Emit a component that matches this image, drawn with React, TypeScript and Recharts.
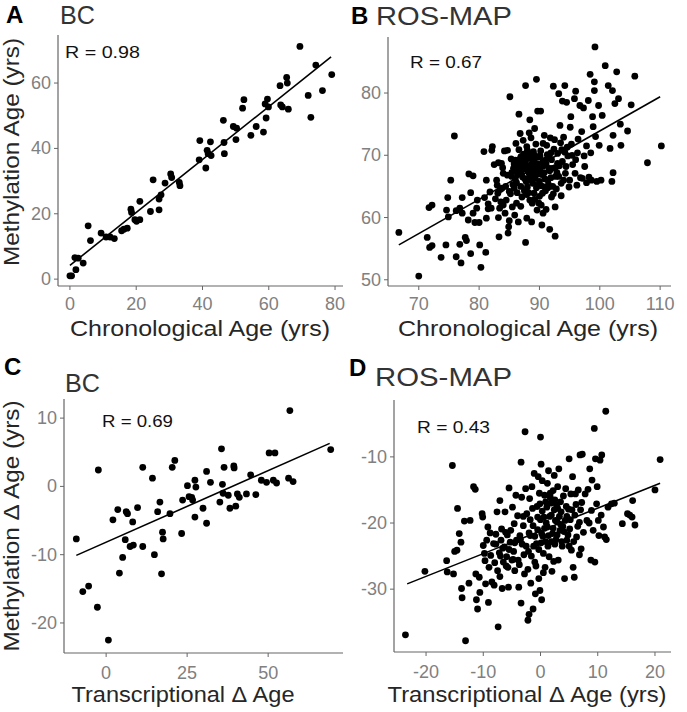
import React from 'react'
import { ScatterChart, Scatter, XAxis, YAxis, ReferenceLine } from 'recharts'

// Panel A: BC, chronological vs methylation age
const bcAgePoints: [number, number][] = [
	[0, 1], [0.5, 1], [1.8, 2.9], [1.5, 6.6], [2.5, 6.4], [4, 4.9], [5.5, 16.3], [6.2, 11.8],
	[9.4, 14.1], [10.9, 12.9], [12.1, 12.9], [13.4, 12.4], [15.6, 14.8], [16.3, 15.3], [17.3, 15.6],
	[18.4, 21.4], [18.6, 20.4], [19.6, 18.2], [20.1, 17.7], [21.1, 23.8], [21.1, 18.2], [24.3, 20.7],
	[25.1, 30.4], [26.9, 21.2], [26.9, 24.5], [27.5, 25.8], [28.7, 29.4], [30.4, 32.2], [30.7, 31.1],
	[33.2, 28.6], [33, 29.6], [39, 36.5], [39.2, 42.4], [41, 34], [41.4, 39.4], [41.7, 38.4],
	[42.4, 42.0], [42.6, 37.8], [46.5, 41.8], [46.3, 48.6], [46.6, 38.4], [49.3, 46.7], [50.1, 42.7],
	[50.3, 46.2], [52.1, 52.3], [52.5, 54.9], [54.6, 44], [56.2, 46.7], [58.4, 45], [59.2, 49.3],
	[58.9, 53.6], [59.6, 55.1], [59.9, 52.7], [63.4, 59.2], [63.6, 53.3], [64.1, 52.7], [65.4, 61.7],
	[65.6, 60], [65.9, 52], [69.4, 71.2], [71.9, 56.2], [72.7, 49.5], [74.2, 65.5], [76.2, 57.7],
	[79, 62.6],
]
const bcAgeFit: [number, number][] = [[0, 4.2], [78.8, 68]]

// Panel B: ROS-MAP, chronological vs methylation age
const rosAgePoints: [number, number][] = [
	[66.7, 57.6], [70.0, 50.6], [71.4, 56.8], [71.7, 61.6], [72.2, 62.0], [71.8, 55.2], [72.2, 55.5],
	[73.7, 53.6], [74.5, 55.6], [74.6, 61.2], [74.8, 63.2], [74.9, 60.1], [75.3, 66.0], [75.9, 73.1],
	[76.2, 53.7], [76.8, 55.7], [77.0, 52.7], [76.8, 61.5], [76.2, 61.1], [77.2, 63.2], [77.2, 60.7],
	[77.7, 56.8], [77.9, 56.3], [78.3, 67.0], [78.6, 64.0], [78.6, 54.2], [78.2, 59.6], [79.0, 60.7],
	[79.0, 66.7], [79.3, 59.2], [79.6, 61.5], [79.7, 62.8], [80.0, 59.2], [80.1, 55.6], [80.3, 52.0],
	[80.8, 70.6], [80.9, 63.2], [81.1, 54.4], [81.2, 66.0], [81.2, 59.9], [81.5, 61.4], [81.5, 62.2],
	[81.8, 64.1], [82.1, 70.8], [82.2, 71.4], [82.9, 66.0], [83.1, 63.9], [83.2, 68.8], [83.2, 60.0],
	[83.3, 56.9], [83.4, 61.5], [83.6, 62.5], [83.7, 68.7], [83.8, 64.7], [84.0, 67.1], [84.2, 70.7],
	[84.3, 60.7], [84.5, 62.8], [84.7, 70.8], [84.8, 57.5], [85.0, 59.5], [85.1, 79.4], [85.2, 63.8],
	[85.4, 66.6], [85.5, 61.7], [85.7, 67.9], [85.8, 64.7], [86.0, 69.2], [86.1, 71.9], [86.2, 65.6],
	[86.2, 62.3], [86.6, 76.6], [86.5, 59.3], [86.8, 73.5], [86.9, 69.7], [87.0, 67.1], [87.1, 63.3],
	[87.3, 69.2], [87.6, 68.2], [87.7, 81.2], [87.7, 56.0], [87.9, 71.4], [87.9, 59.9], [88.0, 64.9],
	[88.1, 69.7], [88.3, 67.1], [88.3, 73.6], [88.4, 75.7], [88.4, 62.8], [88.6, 66.0], [88.7, 59.3],
	[88.8, 68.7], [89.0, 70.6], [89.1, 63.9], [89.2, 74.3], [89.5, 82.2], [89.5, 67.6], [89.7, 77.1],
	[89.8, 65.2], [89.9, 62.3], [90.1, 69.9], [90.2, 77.1], [90.4, 58.8], [90.5, 67.1], [90.6, 60.7],
	[90.8, 73.2], [90.9, 64.9], [91.0, 69.2], [91.2, 71.6], [91.4, 66.0], [91.6, 67.9], [91.7, 58.1],
	[91.9, 70.4], [92.0, 63.3], [92.3, 81.1], [92.5, 72.5], [92.6, 57.0], [92.6, 61.7], [92.7, 66.6],
	[93.0, 68.7], [93.2, 79.9], [93.4, 74.8], [93.6, 63.5], [93.7, 70.9], [93.8, 78.7], [94.0, 72.9],
	[94.2, 81.2], [94.3, 67.1], [94.5, 78.5], [94.7, 69.9], [94.9, 64.9], [95.1, 74.5], [95.2, 76.2],
	[95.3, 71.8], [95.8, 79.1], [95.9, 67.1], [96.0, 80.3], [96.2, 65.2], [96.3, 70.4], [96.4, 72.6],
	[96.7, 78.0], [97.0, 73.8], [97.1, 66.3], [97.3, 77.6], [97.4, 69.9], [97.5, 68.2], [97.8, 71.5],
	[98.1, 78.8], [98.4, 83.0], [98.5, 70.4], [98.6, 66.0], [98.8, 76.2], [98.9, 74.6], [99.1, 81.8],
	[99.1, 80.4], [99.2, 87.4], [99.3, 73.0], [99.5, 65.8], [99.8, 78.0], [99.9, 71.6], [100.2, 66.0],
	[100.4, 76.4], [100.9, 84.4], [101.4, 81.2], [101.7, 71.1], [102.0, 65.8], [102.1, 80.4],
	[102.2, 67.2], [102.2, 73.2], [102.5, 78.3], [102.8, 83.4], [103.1, 79.1], [103.4, 75.0],
	[103.5, 71.6], [104.6, 73.9], [105.2, 78.1], [105.8, 82.7], [107.9, 68.8], [110.2, 71.5],
	[86.5, 68.5], [86.8, 67.5], [87.0, 69.8], [87.2, 66.5], [87.4, 70.2], [87.5, 67.8], [87.7, 68.9],
	[87.8, 65.8], [88.0, 70.8], [88.2, 68.2], [88.4, 66.8], [88.5, 69.5], [88.7, 67.4], [88.9, 65.5],
	[89.0, 68.0], [89.2, 70.0], [89.3, 66.3], [89.5, 64.8], [89.7, 68.6], [89.9, 67.0], [90.0, 65.8],
	[90.2, 70.7], [90.4, 66.9], [90.5, 63.9], [90.7, 68.3], [90.9, 66.2], [91.0, 64.3], [91.3, 70.1],
	[91.5, 65.3], [91.7, 67.5], [92.0, 69.3], [92.2, 65.0], [92.4, 71.0], [92.6, 68.0], [92.8, 64.6],
	[93.0, 70.3], [93.2, 66.6], [93.5, 72.0], [93.8, 69.0], [94.0, 66.0], [86.0, 66.2], [86.3, 64.0],
	[86.6, 70.9], [85.6, 65.3], [85.3, 69.4], [85.0, 64.2], [84.7, 66.8], [84.4, 65.0], [84.0, 62.0],
	[83.9, 68.0], [83.5, 64.5], [83.0, 65.2], [82.7, 63.0], [82.5, 68.5], [82.0, 61.5], [87.3, 72.4],
	[88.6, 72.8], [89.4, 71.8], [90.6, 71.9], [91.8, 72.8], [87.9, 63.7], [88.8, 62.3], [89.6, 61.2],
	[90.3, 62.0], [91.1, 61.3], [86.9, 61.8], [85.9, 60.4], [84.9, 58.5], [95.5, 68.5], [96.0, 69.3],
	[96.8, 66.4], [95.0, 66.0], [94.4, 68.2], [97.8, 65.6], [98.2, 66.5],
	[86.4, 67.0], [86.7, 69.3], [87.1, 68.4], [87.6, 66.2], [87.9, 69.6], [88.1, 67.5], [88.3, 70.3],
	[88.6, 68.1], [88.9, 66.6], [89.1, 69.2], [89.4, 67.3], [89.8, 69.7], [90.1, 67.8], [90.3, 65.1],
	[90.6, 69.0], [90.8, 67.2], [91.1, 68.6], [91.4, 64.8], [91.6, 69.8], [91.9, 66.4], [92.1, 67.9],
	[92.3, 63.8], [92.9, 67.2], [93.3, 68.3], [93.6, 65.5], [86.2, 67.8], [85.8, 68.6], [85.4, 67.2],
	[86.9, 65.0], [87.5, 64.3], [88.2, 64.0], [89.2, 62.9], [90.0, 63.4], [94.2, 70.5], [94.6, 71.3],
	[95.4, 70.0],
]
const rosAgeFit: [number, number][] = [[66.7, 55.6], [110, 79.4]]

// Panel C: BC, transcriptional vs methylation delta age
const bcDeltaPoints: [number, number][] = [
	[-9.2, -7.7], [-7.2, -15.4], [-5.4, -14.6], [-2.7, -17.7], [-2.4, 2.4], [0.7, -22.5], [2.1, -4.9],
	[3.6, -3.4], [4.1, -12.7], [5.1, -10.4], [5.9, -7.8], [6.2, -3.7], [6.6, -4.0], [7.4, -8.8],
	[8.2, -5.2], [8.4, -8.6], [9.7, -3.1], [11.3, 2.8], [11.3, -8.8], [14.3, 1.2], [14.9, -10.0],
	[15.9, -3.7], [16.6, -2.3], [17.1, -12.8], [17.4, -6.7], [17.6, -7.7], [19.7, -4.0], [20.4, 2.8],
	[21.2, 3.8], [23.3, -6.9], [23.6, -2.0], [25.1, 0.1], [25.6, -1.5], [26.4, -1.6], [26.7, -2.0],
	[27.4, 0.9], [27.4, -4.5], [27.7, -0.1], [29.9, -3.2], [31.0, 2.2], [31.0, -5.4], [32.2, 0.6],
	[35.1, -2.3], [35.6, 5.5], [35.9, 0.3], [36.1, -1.0], [36.4, 2.8], [37.7, -1.3], [38.2, -3.2],
	[39.4, 3.0], [39.5, 2.7], [40.0, -2.9], [40.5, -1.1], [41.1, -1.6], [43.3, -1.1], [44.6, 1.7],
	[46.2, -1.2], [47.9, 0.9], [49.5, 0.6], [50.3, 4.9], [52.1, 4.9], [51.6, 0.9], [52.6, 0.5],
	[56.3, 1.2], [56.7, 11.1], [57.7, 0.7], [69.3, 5.4],
]
const bcDeltaFit: [number, number][] = [[-9.2, -10.1], [69.0, 6.3]]

// Panel D: ROS-MAP, transcriptional vs methylation delta age
const rosDeltaPoints: [number, number][] = [
	[-23.6, -36.9], [-20.2, -27.3], [-16.4, -25.7], [-16.3, -27.4], [-15.2, -27.7], [-15.4, -11.3],
	[-15.0, -24.3], [-14.6, -24.1], [-14.5, -17.8], [-14.2, -21.6], [-13.9, -22.9], [-13.8, -29.9],
	[-13.7, -31.3], [-13.3, -19.7], [-13.1, -37.8], [-12.3, -19.6], [-12.5, -29.1], [-11.7, -14.5],
	[-11.4, -14.9], [-11.3, -27.7], [-11.2, -31.6], [-11.0, -33.0], [-10.7, -28.2], [-10.6, -30.5],
	[-10.2, -18.6], [-10.1, -19.1], [-10.0, -23.4], [-9.8, -24.6], [-9.7, -25.7], [-9.6, -29.2],
	[-9.4, -22.6], [-9.2, -20.6], [-9.1, -32.0], [-9.0, -26.7], [-8.7, -24.9], [-8.5, -28.9],
	[-8.2, -23.1], [-8.1, -29.4], [-7.8, -21.7], [-7.6, -18.3], [-7.5, -27.2], [-7.4, -35.7],
	[-7.2, -24.5], [-7.1, -16.6], [-7.1, -28.1], [-6.9, -22.6], [-6.8, -20.9], [-6.7, -29.9],
	[-6.5, -25.9], [-6.3, -23.6], [-6.2, -18.3], [-6.1, -21.4], [-5.9, -25.1], [-5.7, -26.7],
	[-5.6, -29.7], [-5.5, -14.7], [-5.3, -22.9], [-5.2, -21.1], [-5.0, -25.6], [-4.9, -17.6],
	[-4.7, -24.3], [-4.6, -20.1], [-4.5, -27.2], [-4.3, -15.8], [-4.2, -22.6], [-4.0, -18.9],
	[-3.9, -25.6], [-3.8, -29.7], [-3.6, -21.9], [-3.4, -10.8], [-3.4, -32.1], [-3.3, -16.1],
	[-3.2, -23.2], [-3.0, -20.4], [-2.8, -27.7], [-2.7, -6.2], [-2.6, -14.8], [-2.4, -18.6],
	[-2.2, -34.7], [-2.1, -24.3], [-2.0, -33.8], [-1.8, -21.9], [-1.7, -29.1], [-1.5, -14.5],
	[-1.4, -17.8], [-1.3, -33.0], [-1.3, -20.4], [-1.1, -12.5], [-1.0, -25.9], [-0.9, -30.7],
	[-0.7, -23.1], [-0.5, -19.1], [-0.4, -13.0], [-0.3, -28.4], [-0.1, -17.1], [-0.1, -30.2],
	[0.0, -7.0], [0.1, -11.1], [0.2, -21.6], [0.2, -31.6], [0.3, -13.6], [0.5, -24.6], [0.6, -19.1],
	[0.7, -15.8], [0.8, -26.7], [0.9, -22.8], [1.1, -17.6], [1.2, -20.6], [1.4, -12.1], [1.5, -25.1],
	[1.7, -16.1], [1.9, -18.8], [2.0, -27.3], [2.1, -21.6], [2.2, -15.1], [2.4, -12.8], [2.5, -23.2],
	[2.6, -19.6], [2.8, -17.3], [3.0, -14.5], [3.1, -25.6], [3.2, -11.8], [3.4, -21.1], [3.6, -18.3],
	[3.7, -22.8], [4.0, -15.9], [4.2, -28.4], [4.3, -19.6], [4.4, -14.8], [4.6, -22.6], [4.9, -17.9],
	[5.0, -10.3], [5.1, -20.9], [5.3, -15.6], [5.4, -24.1], [5.6, -13.0], [5.7, -26.7], [5.9, -28.2],
	[6.0, -18.8], [6.1, -15.6], [6.3, -22.1], [6.6, -15.0], [6.8, -19.9], [6.9, -9.7], [7.1, -23.9],
	[7.2, -16.9], [7.3, -9.6], [7.5, -21.4], [7.8, -15.6], [8.1, -19.6], [8.3, -14.9], [8.6, -11.8],
	[8.8, -25.6], [8.9, -18.1], [9.0, -13.5], [9.2, -21.1], [9.4, -5.7], [9.5, -25.9], [9.6, -10.3],
	[9.8, -17.1], [9.9, -14.5], [10.1, -19.6], [10.2, -21.9], [10.4, -10.5], [10.6, -18.8],
	[10.7, -9.7], [11.0, -20.6], [11.2, -22.1], [11.4, -3.1], [11.5, -22.5], [11.8, -17.6],
	[12.4, -17.1], [12.9, -17.0], [14.3, -20.1], [15.2, -18.6], [15.6, -18.8], [16.0, -19.1],
	[16.1, -16.6], [16.5, -20.3], [20.0, -15.0], [20.9, -10.4],
	[-0.5, -21.0], [0.0, -19.5], [0.4, -22.0], [1.0, -20.0], [1.6, -19.0], [2.2, -20.8], [2.9, -21.8],
	[3.3, -19.0], [3.9, -20.5], [1.3, -23.5], [-1.0, -22.0], [-1.8, -19.5], [-2.5, -23.5],
	[-3.5, -22.5], [-4.5, -23.0], [-5.5, -24.0], [-6.0, -26.5], [-7.0, -25.0], [-8.0, -26.0],
	[-0.8, -26.5], [0.5, -27.5], [-2.2, -27.0], [1.8, -17.0], [2.5, -16.5], [3.5, -16.8], [4.5, -17.5],
	[5.5, -18.0], [6.5, -20.5], [7.0, -18.0], [8.5, -20.0], [0.3, -18.2], [-0.2, -15.5], [1.2, -14.0],
	[-3.0, -19.0], [-2.0, -21.5], [2.7, -22.5], [3.8, -23.5], [4.8, -21.8], [5.8, -22.8], [6.8, -24.8],
	[0.1, -23.0], [0.7, -20.8], [1.4, -21.9], [1.9, -22.8], [2.4, -18.0], [2.9, -19.8], [3.5, -20.2],
	[4.1, -21.3], [4.6, -19.0], [5.2, -19.5], [-0.3, -24.0], [-1.2, -23.5], [-1.6, -25.0],
	[-2.9, -24.8], [-3.7, -26.3], [-4.8, -25.5], [-5.8, -21.8], [-6.6, -23.8], [-7.8, -23.2],
	[-8.8, -21.5], [0.9, -16.8], [1.7, -15.5], [3.0, -17.8], [6.2, -17.2], [5.0, -23.5], [2.3, -25.8],
	[-0.6, -17.5], [-1.9, -16.3],
]
const rosDeltaFit: [number, number][] = [[-23.3, -29.2], [20.9, -14.0]]

// tick values
const ticksA_x = [0, 20, 40, 60, 80]
const ticksA_y = [0, 20, 40, 60]
const ticksB_x = [70, 80, 90, 100, 110]
const ticksB_y = [50, 60, 70, 80]
const ticksC_x = [0, 25, 50]
const ticksC_y = [-20, -10, 0, 10]
const ticksD_x = [-20, -10, 0, 10, 20]
const ticksD_y = [-30, -20, -10]

const FONT = '"Liberation Sans", Arial, Helvetica, sans-serif'
const AXIS = '#666'
const TICK = '#808080'

const toXY = (pts: [number, number][]) => pts.map(([x, y]) => ({ x, y }))

const Dot = (props: any) => <circle cx={props.cx} cy={props.cy} r={3.4} fill="#000" />

const XTick = (dy: number) => (props: any) => (
	<text x={props.x} y={props.y + dy} textAnchor="middle" fontSize={18} fill={TICK} fontFamily={FONT}>
		{props.payload.value}
	</text>
)

const YTick = (props: any) => (
	<text x={props.x - 3} y={props.y + 6} textAnchor="end" fontSize={18} fill={TICK} fontFamily={FONT}>
		{props.payload.value}
	</text>
)

type PanelProps = {
	left: number
	top: number
	width: number
	height: number
	marginTop: number
	marginRight: number
	yAxisWidth: number
	xAxisHeight: number
	tickDy: number
	points: [number, number][]
	fit: [number, number][]
	xDomain: [number, number]
	yDomain: [number, number]
	xTicks: number[]
	yTicks: number[]
}

const Panel = (p: PanelProps) => (
	<div style={{ position: 'absolute', left: p.left, top: p.top }}>
		<ScatterChart
			width={p.width}
			height={p.height}
			margin={{ top: p.marginTop, right: p.marginRight, bottom: 0, left: 0 }}
		>
			<XAxis
				type="number"
				dataKey="x"
				domain={p.xDomain}
				ticks={p.xTicks}
				interval={0}
				allowDataOverflow
				height={p.xAxisHeight}
				axisLine={{ stroke: AXIS, strokeWidth: 1.2 }}
				tickLine={{ stroke: AXIS }}
				tickSize={4}
				tickMargin={0}
				tick={XTick(p.tickDy)}
			/>
			<YAxis
				type="number"
				dataKey="y"
				domain={p.yDomain}
				ticks={p.yTicks}
				interval={0}
				allowDataOverflow
				width={p.yAxisWidth}
				axisLine={{ stroke: AXIS, strokeWidth: 1.2 }}
				tickLine={{ stroke: AXIS }}
				tickSize={4}
				tickMargin={0}
				tick={YTick}
			/>
			<Scatter data={toXY(p.points)} shape={Dot} isAnimationActive={false} />
			<ReferenceLine
				segment={[
					{ x: p.fit[0][0], y: p.fit[0][1] },
					{ x: p.fit[1][0], y: p.fit[1][1] },
				]}
				stroke="#000"
				strokeWidth={1.6}
				ifOverflow="visible"
			/>
		</ScatterChart>
	</div>
)

const App = () => {
	return (
		<div
			style={{
				position: 'absolute',
				left: 0,
				top: 0,
				width: 687,
				height: 712,
				background: '#fff',
				fontFamily: FONT,
			}}
		>
			<Panel
				left={0} top={0} width={345} height={320}
				marginTop={35} marginRight={2} yAxisWidth={58} xAxisHeight={34} tickDy={20}
				points={bcAgePoints} fit={bcAgeFit}
				xDomain={[-3.6, 82.4]} yDomain={[-2.1, 74.7]} xTicks={ticksA_x} yTicks={ticksA_y}
			/>
			<Panel
				left={345} top={0} width={342} height={320}
				marginTop={37} marginRight={16} yAxisWidth={43} xAxisHeight={34} tickDy={20}
				points={rosAgePoints} fit={rosAgeFit}
				xDomain={[64.9, 111.8]} yDomain={[49.0, 89.0]} xTicks={ticksB_x} yTicks={ticksB_y}
			/>
			<Panel
				left={0} top={360} width={345} height={352}
				marginTop={39} marginRight={2} yAxisWidth={64} xAxisHeight={59} tickDy={22}
				points={bcDeltaPoints} fit={bcDeltaFit}
				xDomain={[-13, 73.1]} yDomain={[-24.4, 12.8]} xTicks={ticksC_x} yTicks={ticksC_y}
			/>
			<Panel
				left={345} top={360} width={342} height={352}
				marginTop={40} marginRight={16} yAxisWidth={49} xAxisHeight={60} tickDy={22}
				points={rosDeltaPoints} fit={rosDeltaFit}
				xDomain={[-25.6, 22.8]} yDomain={[-39.5, -1.4]} xTicks={ticksD_x} yTicks={ticksD_y}
			/>

			{/* labels */}
			<svg
				width={687}
				height={712}
				style={{ position: 'absolute', left: 0, top: 0, pointerEvents: 'none' }}
				fontFamily={FONT}
			>
				<g fontSize={24} fontWeight="bold" fill="#000">
					<text x={6} y={23}>A</text>
					<text x={351} y={24}>B</text>
					<text x={4} y={375}>C</text>
					<text x={349} y={376}>D</text>
				</g>
				<g fontSize={25} fill="#333">
					<text x={60} y={24} textLength={35} lengthAdjust="spacingAndGlyphs">BC</text>
					<text x={376} y={25} textLength={136} lengthAdjust="spacingAndGlyphs">ROS-MAP</text>
					<text x={65} y={392} textLength={35} lengthAdjust="spacingAndGlyphs">BC</text>
					<text x={375} y={386} textLength={137} lengthAdjust="spacingAndGlyphs">ROS-MAP</text>
				</g>
				<g fontSize={16.5} fill="#111">
					<text x={65} y={58} textLength={75} lengthAdjust="spacingAndGlyphs">R =  0.98</text>
					<text x={410} y={68} textLength={72} lengthAdjust="spacingAndGlyphs">R =  0.67</text>
					<text x={102} y={427} textLength={71} lengthAdjust="spacingAndGlyphs">R =  0.69</text>
					<text x={417} y={433} textLength={73} lengthAdjust="spacingAndGlyphs">R =  0.43</text>
				</g>
				<g fontSize={21.5} fill="#262626">
					<text transform="translate(19,152) rotate(-90)" textAnchor="middle" textLength={228} lengthAdjust="spacingAndGlyphs">
						Methylation Age (yrs)
					</text>
					<text transform="translate(19,526) rotate(-90)" textAnchor="middle" textLength={251} lengthAdjust="spacingAndGlyphs">
						Methylation Δ Age (yrs)
					</text>
					<text x={200} y={336} textAnchor="middle" textLength={260} lengthAdjust="spacingAndGlyphs">
						Chronological Age (yrs)
					</text>
					<text x={528} y={336} textAnchor="middle" textLength={260} lengthAdjust="spacingAndGlyphs">
						Chronological Age (yrs)
					</text>
					<text x={183} y={702} textAnchor="middle" textLength={223} lengthAdjust="spacingAndGlyphs">
						Transcriptional Δ Age
					</text>
					<text x={527} y={702} textAnchor="middle" textLength={279} lengthAdjust="spacingAndGlyphs">
						Transcriptional Δ Age (yrs)
					</text>
				</g>
			</svg>
		</div>
	)
}

export default App
